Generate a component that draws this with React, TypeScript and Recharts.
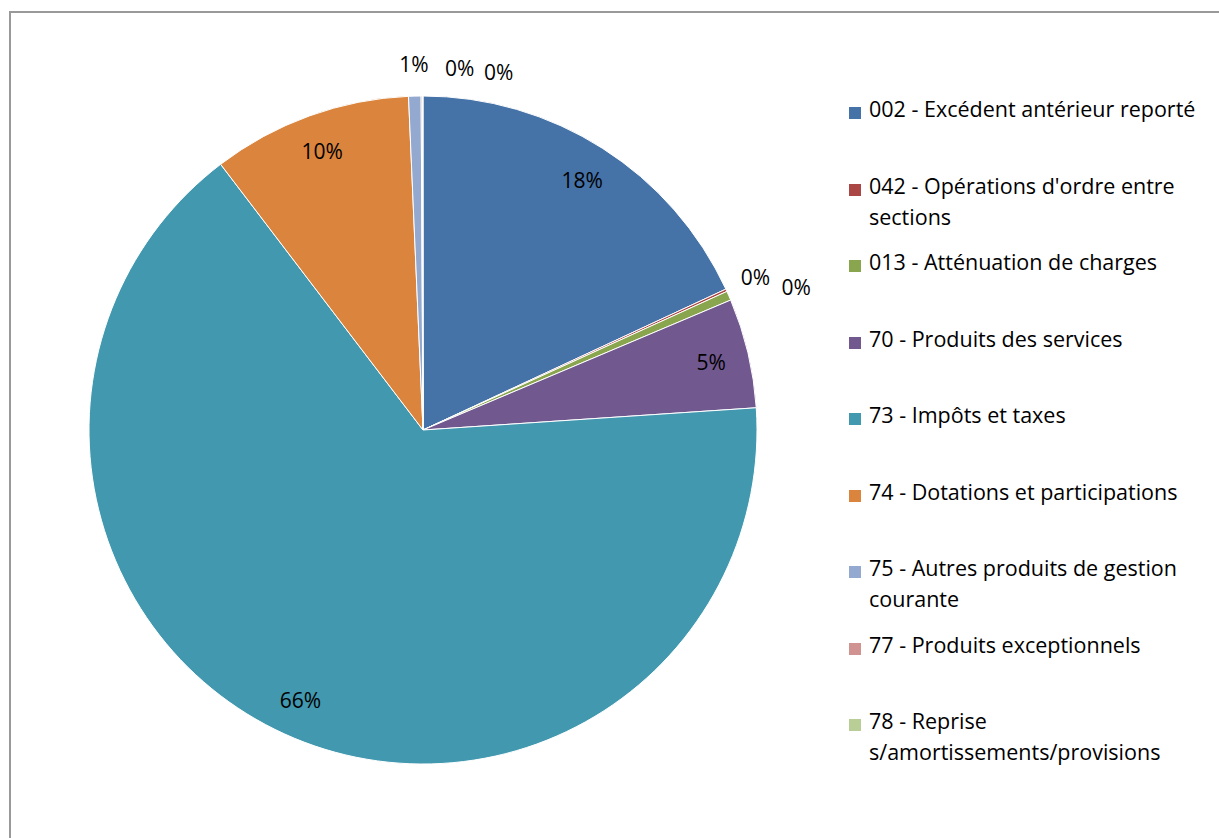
import { PieChart, Pie, Cell, Legend } from 'recharts';

const categories = [
  '002 - Excédent antérieur reporté',
  "042 - Opérations d'ordre entre\nsections",
  '013 - Atténuation de charges',
  '70 - Produits des services',
  '73 - Impôts et taxes',
  '74 - Dotations et participations',
  '75 - Autres produits de gestion\ncourante',
  '77 - Produits exceptionnels',
  '78 - Reprise\ns/amortissements/provisions',
];

const shares = [18.07, 0.12, 0.45, 5.3, 65.7, 9.67, 0.6, 0.06, 0.03];

const colors = [
  '#4572A7',
  '#AA4643',
  '#89A54E',
  '#71588F',
  '#4198AF',
  '#DB843D',
  '#93A9CF',
  '#D19392',
  '#B9CD96',
];

const FONT = '"Open Sans", sans-serif';
const RAD = Math.PI / 180;

const data = categories.map((name, i) => ({ name, value: shares[i] }));

// how many small slices in a row precede each one (to push outside labels apart)
const total = shares.reduce((a, b) => a + b, 0);
const crowd: number[] = [];
shares.forEach((v, i) => {
  const small = v / total < 0.02;
  const prevSmall = i > 0 && shares[i - 1] / total < 0.02;
  crowd.push(small && prevSmall ? crowd[i - 1] + 1 : 0);
});

function renderLabel(props: any) {
  const { cx, cy, midAngle, outerRadius, percent, index } = props;
  const inside = percent >= 0.02;
  const r = inside ? outerRadius * 0.887 : outerRadius + 32;
  let x = cx + r * Math.cos(-midAngle * RAD);
  let y = cy + r * Math.sin(-midAngle * RAD);
  if (!inside) {
    x += crowd[index] * 38;
    y += crowd[index] * 4;
  }
  return (
    <text
      x={x}
      y={y}
      fill="#000"
      fontSize={21}
      fontFamily={FONT}
      textAnchor="middle"
      dominantBaseline="central"
    >
      {`${Math.round(percent * 100)}%`}
    </text>
  );
}

function LegendBox() {
  return (
    <div style={{ fontFamily: FONT, fontSize: 21.5, color: '#000' }}>
      {categories.map((name, i) => (
        <div key={name} style={{ height: 76.5, display: 'flex', alignItems: 'flex-start' }}>
          <div
            style={{
              width: 12,
              height: 12,
              background: colors[i],
              marginTop: 9,
              marginRight: 8,
              flex: 'none',
            }}
          />
          <div style={{ whiteSpace: 'pre-line', lineHeight: '31px', marginTop: -5 }}>{name}</div>
        </div>
      ))}
    </div>
  );
}

export default function App() {
  return (
    <div style={{ position: 'absolute', left: 0, top: 0, width: 1219, height: 838, background: '#fff', overflow: 'hidden' }}>
      <div
        style={{
          position: 'absolute',
          left: 9,
          top: 11,
          width: 1230,
          height: 850,
          border: '2px solid #999',
          boxSizing: 'border-box',
        }}
      />
      <PieChart
        width={1219}
        height={838}
        margin={{ top: 0, right: 0, bottom: 0, left: 0 }}
        style={{ position: 'absolute', left: 0, top: 0 }}
      >
        <Pie
          data={data}
          dataKey="value"
          nameKey="name"
          cx={423}
          cy={430}
          outerRadius={334}
          startAngle={90}
          endAngle={-270}
          stroke="#fff"
          strokeWidth={1}
          label={renderLabel}
          labelLine={false}
          isAnimationActive={false}
        >
          {data.map((d, i) => (
            <Cell key={d.name} fill={colors[i]} />
          ))}
        </Pie>
        <Legend
          layout="vertical"
          content={() => <LegendBox />}
          wrapperStyle={{ position: 'absolute', left: 849, top: 98, width: 370, bottom: 'auto' }}
        />
      </PieChart>
    </div>
  );
}
